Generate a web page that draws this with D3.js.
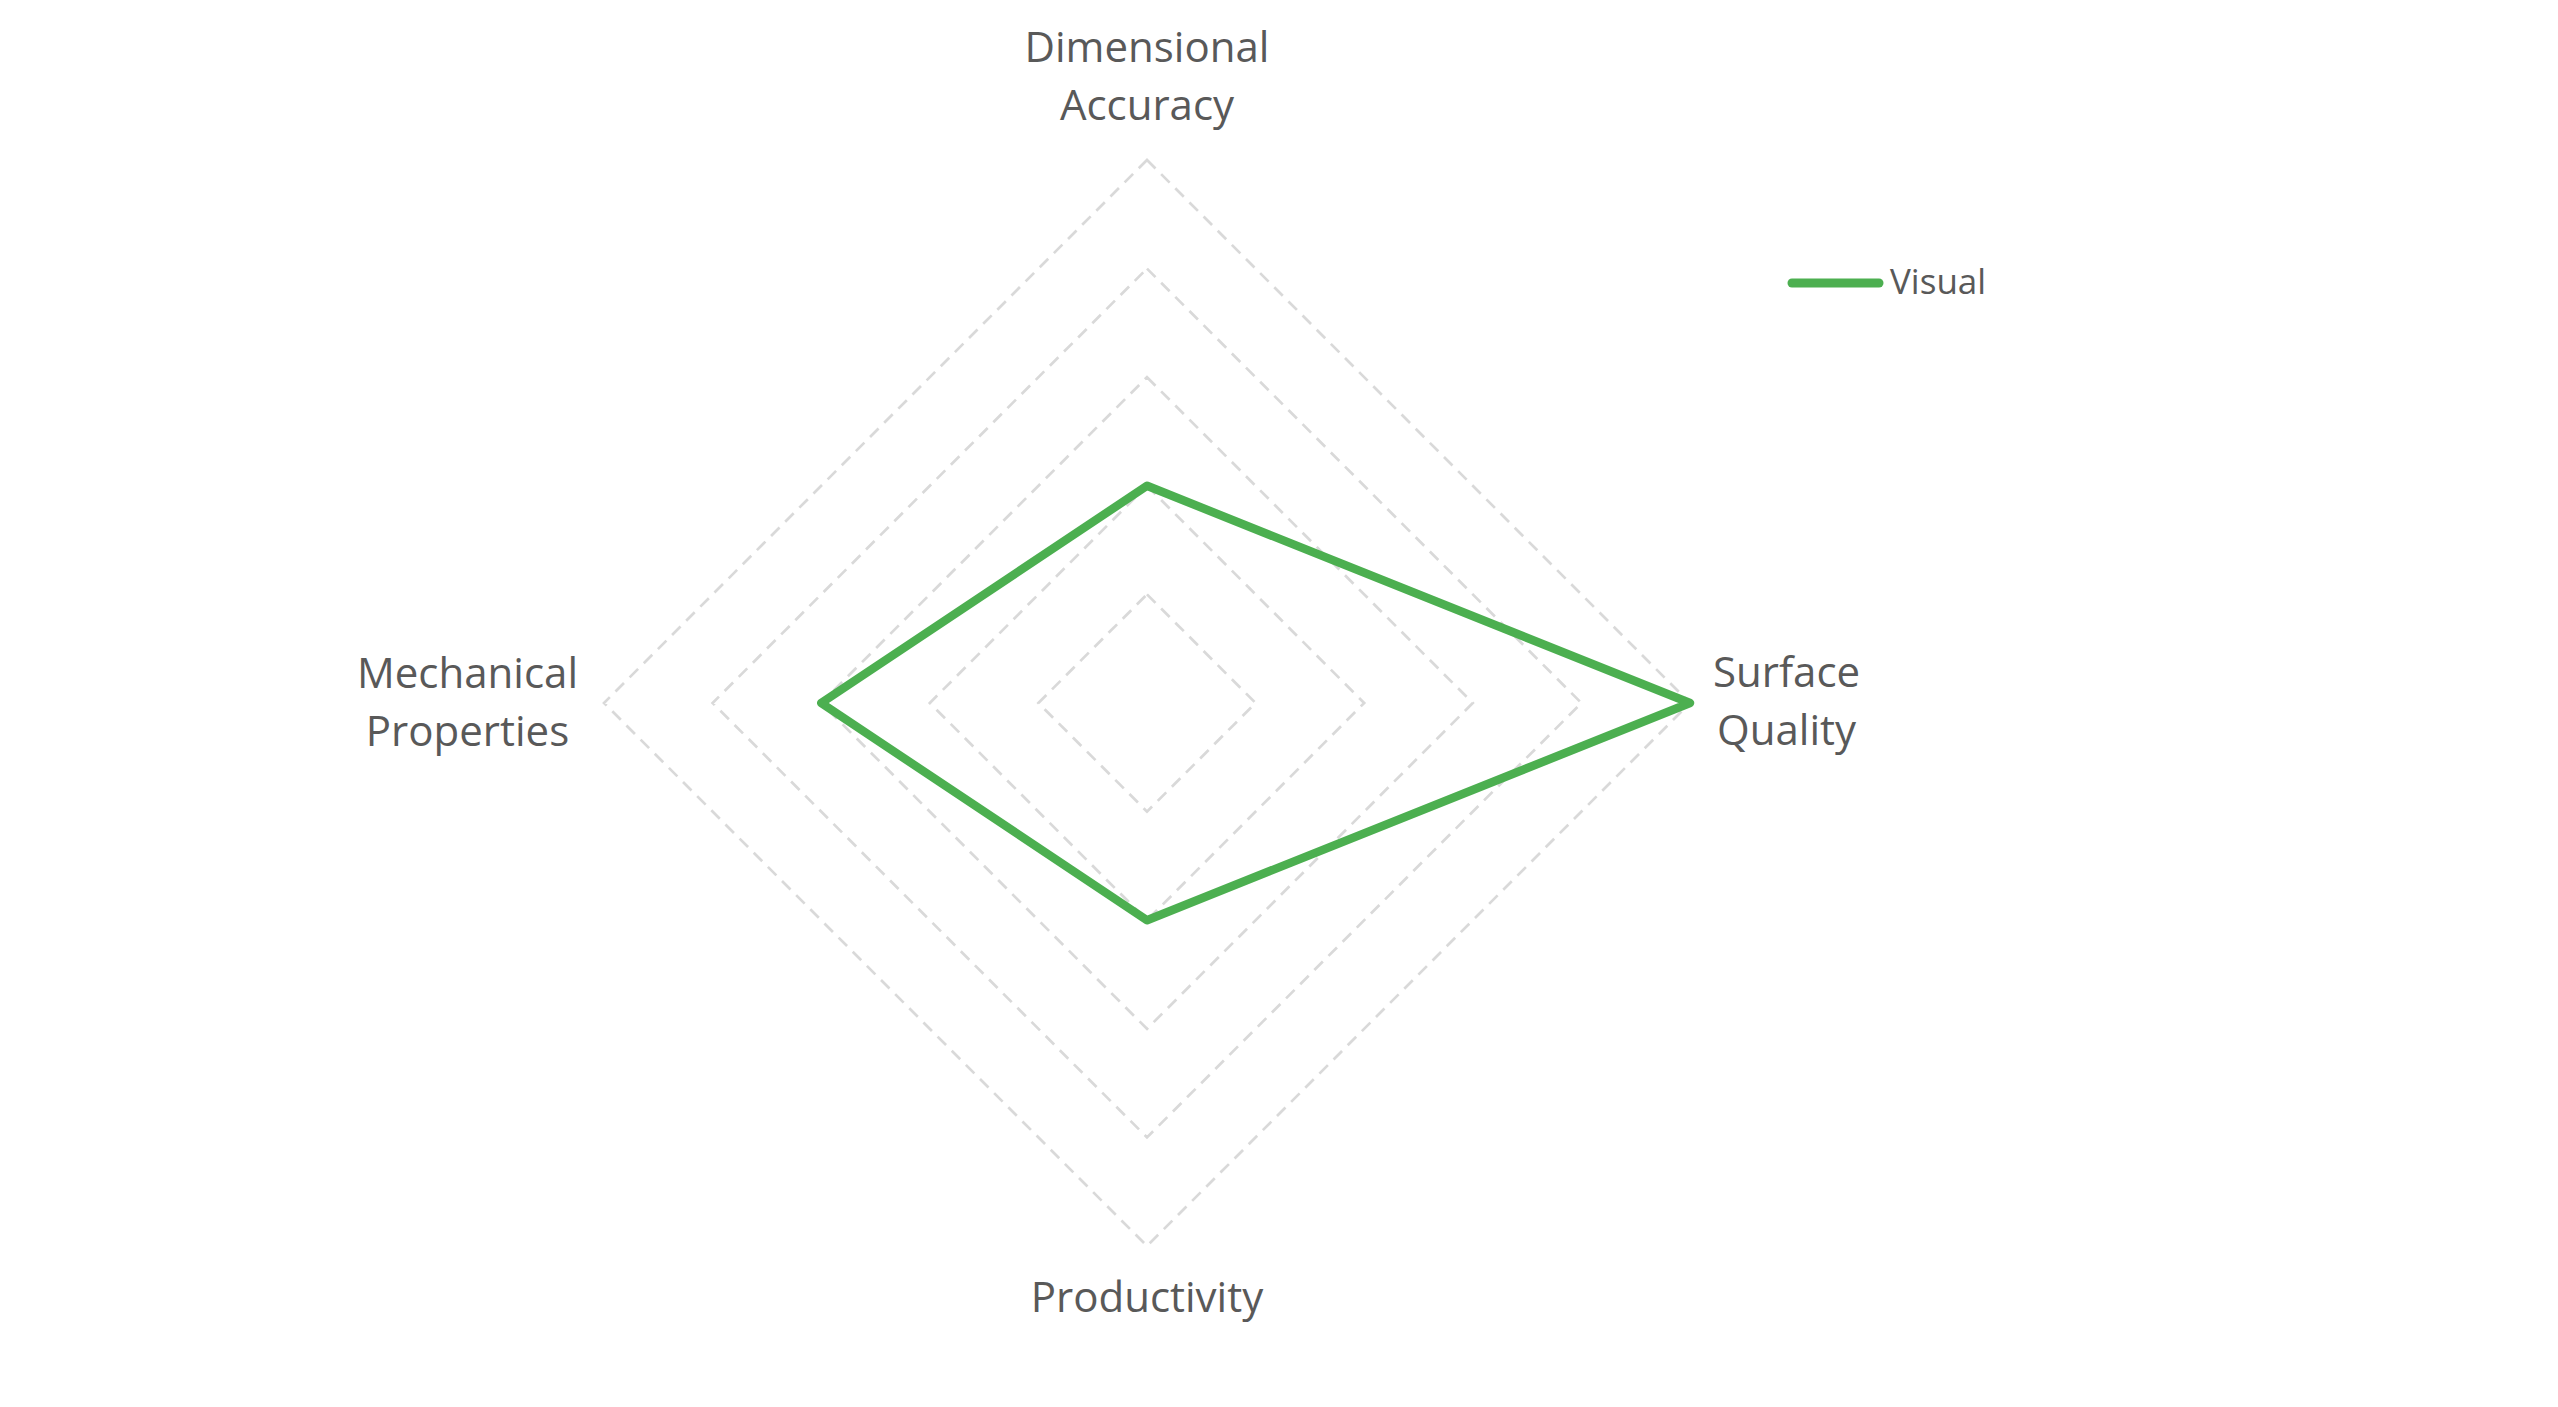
<!DOCTYPE html>
<html><head><meta charset="utf-8">
<script src="https://cdn.jsdelivr.net/npm/d3@7"></script>
<style>body{margin:0;background:#fff;}svg{display:block;}</style>
</head><body>
<svg id="c" width="2558" height="1407"></svg>
<script>
const axes = [["Dimensional","Accuracy"],["Surface","Quality"],["Productivity"],["Mechanical","Properties"]];
const seriesName = "Visual";
const values = [2, 5, 2, 3];
const levels = [1, 2, 3, 4, 5];

const W = 2558, H = 1407;
const cx = 1147, cy = 703, R = 543;
const color = "#4CAF50";
const textColor = "#595959";
const font = "'Open Sans', sans-serif";
const labelSize = 42, lineH = 58;

const svg = d3.select("#c");
const r = d3.scaleLinear().domain([0, 5]).range([0, R]);
const ang = d3.scaleLinear().domain([0, axes.length]).range([0, 2*Math.PI]);
const pt = (i, v) => [cx + r(v)*Math.sin(ang(i)), cy - r(v)*Math.cos(ang(i))];

const line = d3.line().curve(d3.curveLinearClosed);

// grid
svg.append("g").selectAll("path").data(levels).join("path")
  .attr("d", l => line(axes.map((a, i) => pt(i, l))))
  .attr("fill", "none").attr("stroke", "#d9d9d9").attr("stroke-width", 2.7)
  .attr("stroke-dasharray", "12,8");

// series
svg.append("path")
  .attr("d", line(values.map((v, i) => pt(i, v))))
  .attr("fill", "none").attr("stroke", color).attr("stroke-width", 8.5)
  .attr("stroke-linejoin", "round");

// labels
const lg = svg.append("g").attr("font-family", font).attr("font-size", labelSize).attr("fill", textColor);
axes.forEach((lines, i) => {
  const [vx, vy] = pt(i, 5);
  const t = lg.append("text").attr("text-anchor", "middle");
  lines.forEach((s, k) => t.append("tspan").text(s));
  const w = d3.max(t.selectAll("tspan").nodes(), n => n.getComputedTextLength());
  let x = vx, y0;
  if (i === 0) { y0 = vy - 40 - (lines.length - 1) * lineH; }
  else if (i === 2) { y0 = vy + 66; }
  else if (i === 1) { x = vx + 23 + w/2; y0 = cy - 16; }
  else { x = vx - 26 - w/2; y0 = cy - 15; }
  t.selectAll("tspan").attr("x", x).attr("y", (d, k) => y0 + k*lineH);
});

// legend
const leg = svg.append("g");
leg.append("line").attr("x1", 1792).attr("x2", 1879).attr("y1", 283).attr("y2", 283)
  .attr("stroke", color).attr("stroke-width", 9).attr("stroke-linecap", "round");
leg.append("text").attr("x", 1890).attr("y", 294).attr("font-family", font)
  .attr("font-size", 35).attr("fill", textColor).text(seriesName);
</script>
</body></html>
